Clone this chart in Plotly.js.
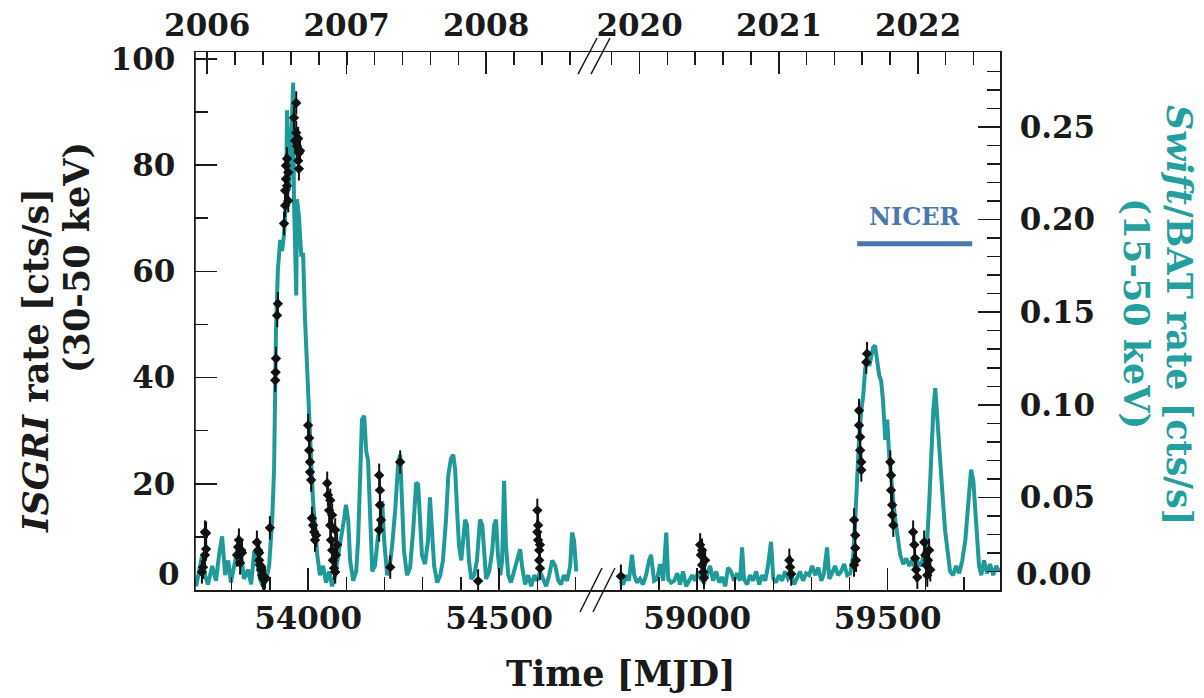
<!DOCTYPE html>
<html>
<head>
<meta charset="utf-8">
<script src="https://cdn.plot.ly/plotly-3.0.1.min.js"></script>
<style>html,body{margin:0;padding:0;background:#fff;}#chart{width:1204px;height:698px;}</style>
</head>
<body>
<div id="chart"></div>
<script>
// ---- Swift/BAT 15-50 keV light curve (cts/s), 2006-2008 segment ----
const batLeftMJD = [
53707,53715,53722,53730,53738,53749,53759,53767,53775,53783,
53791,53798,53809,53817,53825,53832,53843,53851,53859,53866,
53874,53882,53890,53898,53906,53911,53916,53921,53927,53932,
53937,53942,53945,53950,53955,53961,53963,53969,53971,53976,
53982,53987,53992,53997,54003,54008,54013,54018,54024,54031,
54039,54047,54055,54063,54071,54079,54086,54094,54099,54105,
54110,54118,54126,54131,54136,54141,54147,54152,54157,54162,
54168,54175,54183,54188,54194,54199,54207,54212,54220,54228,
54236,54241,54246,54251,54259,54267,54275,54283,54288,54293,
54298,54306,54314,54319,54325,54330,54338,54346,54353,54361,
54367,54374,54380,54385,54390,54395,54401,54406,54411,54416,
54421,54427,54435,54442,54450,54456,54461,54466,54474,54482,
54487,54492,54497,54503,54508,54513,54518,54524,54531,54539,
54547,54555,54560,54568,54576,54584,54592,54600,54607,54615,
54623,54631,54639,54647,54655,54662,54670,54678,54686,54691,
54696,54702];
const batLeftRate = [
0.002,0.010,0.018,0.008,0.003,0.013,0.005,0.019,0.029,0.008,
0.016,0.004,0.016,0.024,0.019,0.006,0.011,0.003,0.021,0.016,
0.006,0.002,0.005,0.013,0.038,0.065,0.140,0.173,0.189,0.183,
0.192,0.210,0.259,0.216,0.238,0.274,0.211,0.159,0.211,0.202,
0.181,0.181,0.146,0.119,0.092,0.070,0.048,0.032,0.019,0.008,
0.013,0.004,0.010,0.002,0.008,0.019,0.027,0.038,0.046,0.038,
0.016,0.005,0.010,0.027,0.059,0.092,0.094,0.075,0.070,0.038,
0.010,0.013,0.029,0.032,0.048,0.027,0.008,0.010,0.024,0.043,
0.069,0.073,0.048,0.021,0.008,0.012,0.032,0.058,0.057,0.038,
0.019,0.014,0.027,0.050,0.032,0.013,0.004,0.008,0.016,0.038,
0.062,0.071,0.073,0.065,0.043,0.024,0.016,0.027,0.038,0.035,
0.016,0.006,0.008,0.016,0.038,0.035,0.016,0.006,0.010,0.021,
0.035,0.038,0.019,0.008,0.016,0.059,0.024,0.008,0.004,0.010,
0.016,0.022,0.013,0.003,0.008,0.002,0.008,0.005,0.010,0.006,
0.002,0.008,0.016,0.013,0.005,0.003,0.008,0.005,0.013,0.031,
0.027,0.010];

// ---- Swift/BAT, 2020-2022 segment ----
const batRightMJD = [
58798,58806,58814,58821,58829,58835,58842,58850,58858,58866,
58874,58879,58887,58895,58903,58911,58919,58924,58932,58940,
58948,58955,58963,58971,58979,58987,58995,59003,59010,59018,
59026,59034,59042,59050,59058,59066,59074,59081,59089,59097,
59105,59113,59118,59123,59131,59139,59147,59155,59163,59171,
59179,59186,59194,59200,59207,59215,59223,59231,59239,59247,
59255,59263,59270,59278,59286,59294,59302,59310,59318,59326,
59333,59341,59347,59354,59362,59370,59378,59386,59394,59402,
59410,59415,59420,59425,59431,59436,59441,59446,59452,59457,
59462,59467,59473,59478,59483,59488,59494,59499,59504,59509,
59515,59520,59525,59533,59541,59549,59557,59564,59572,59580,
59588,59596,59604,59609,59614,59620,59625,59630,59635,59640,
59646,59651,59656,59664,59672,59680,59688,59696,59704,59709,
59714,59719,59725,59730,59735,59740,59746,59753,59761,59769,
59777,59785,59793];
const batRightRate = [
0.005,0.003,0.008,0.005,0.019,0.008,0.004,0.006,0.003,0.008,
0.016,0.019,0.005,0.006,0.014,0.005,0.031,0.006,0.004,0.005,
0.009,0.003,0.010,0.002,0.005,0.008,0.005,0.010,0.006,0.004,
0.008,0.013,0.005,0.010,0.004,0.007,0.002,0.012,0.010,0.005,
0.009,0.005,0.023,0.006,0.003,0.008,0.005,0.010,0.003,0.008,
0.005,0.013,0.026,0.006,0.004,0.008,0.005,0.010,0.006,0.008,
0.003,0.007,0.010,0.005,0.009,0.008,0.013,0.008,0.012,0.005,
0.009,0.023,0.006,0.009,0.013,0.008,0.010,0.014,0.008,0.009,
0.019,0.038,0.065,0.081,0.097,0.105,0.119,0.126,0.121,0.127,
0.131,0.132,0.121,0.116,0.113,0.102,0.081,0.092,0.073,0.059,
0.048,0.038,0.029,0.019,0.014,0.017,0.013,0.016,0.012,0.015,
0.013,0.019,0.027,0.046,0.070,0.097,0.109,0.092,0.078,0.065,
0.046,0.032,0.024,0.010,0.008,0.013,0.009,0.016,0.027,0.040,
0.054,0.065,0.059,0.043,0.024,0.013,0.008,0.016,0.009,0.014,
0.008,0.013,0.010];

// ---- INTEGRAL/ISGRI 30-50 keV rates (cts/s) ----
const isgriLeftMJD = [
53722,53725,53730,53733,53733,53730,
53814,53817,53819,53822,53825,53827,
53866,53869,53872,53874,53877,53880,53882,53885,53887,53872,
53900,
53914,53915,53916,53919,53921,
53937,53940,53940,53942,53942,53945,53945,53948,53948,
53963,53969,53966,53969,53971,53974,53974,53976,53976,53979,
54000,54003,54003,54005,54005,54008,
54010,54013,54016,54018,54021,
54050,54052,54055,54058,54060,54063,54065,54068,54071,54073,54076,54058,54063,54071,
54186,54188,54188,54191,54186,
54215,
54241,
54445,
54600,54602,54602,54605,54605,54607,54607,54600];
const isgriLeftRate = [
3.4,4.3,6.6,7.7,10.7,10.9,
6.6,8.1,9.4,5.1,7.5,7.0,
9.0,7.5,5.6,4.7,3.8,2.8,2.3,1.9,2.4,7.0,
11.7,
39.5,41.0,43.6,51.7,53.9,
69.0,72.4,75.2,77.4,79.9,81.2,76.1,78.6,73.3,
88.9,91.7,84.6,86.1,83.6,85.0,80.8,82.3,79.3,82.7,
31.0,28.6,26.3,24.1,22.2,20.7,
13.5,12.2,10.9,9.4,10.3,
20.1,17.9,15.0,12.2,9.4,7.5,5.6,4.1,3.4,6.6,8.5,16.9,14.1,11.3,
21.6,18.8,16.0,13.2,11.3,
4.3,
24.1,
1.7,
15.0,12.2,9.4,7.5,5.6,4.1,8.5,10.9];

const isgriRightMJD = [
58800,
59008,59010,59013,59016,59018,59013,59021,
59242,59244,59247,
59412,59415,59415,59417,59412,
59425,59425,59428,59428,59431,59431,
59446,59444,
59507,59509,59509,59512,59512,59515,
59567,59570,59572,59575,59578,
59596,59599,59601,59604,59606,59609,59612];
const isgriRightRate = [
2.6,
8.5,6.6,4.7,3.4,2.3,7.5,5.6,
5.6,4.3,3.0,
13.2,10.3,7.9,5.6,4.7,
33.8,31.0,28.8,26.3,24.1,22.6,
44.5,42.9,
24.1,21.6,18.8,16.0,14.1,12.2,
10.9,8.5,6.0,3.8,2.4,
9.0,6.6,4.7,2.8,5.6,7.5,3.8];

// ---- NICER coverage ----
const nicerMJD = [59420, 59722];
const nicerRate = [0.187, 0.187];
const nicerLabel = 'NICER';

// ---- axes ticks / labels ----
const yearTicksLeft = [53736, 54101, 54466];
const yearLabelsLeft = ['2006', '2007', '2008'];
const yearTicksRight = [58849, 59215, 59580];
const yearLabelsRight = ['2020', '2021', '2022'];
const isgriTicks = [0, 20, 40, 60, 80, 100];
const isgriTickText = ['', '20', '40', '60', '80', '100'];
const batTicks = [0, 0.05, 0.10, 0.15, 0.20, 0.25];
const batTickText = ['', '0.05', '0.10', '0.15', '0.20', '0.25'];
const isgriZeroLabel = '0';
const batZeroLabel = '0.00';
const xTitle = 'Time [MJD]';
const isgriTitle1 = '<i>ISGRI</i> rate [cts/s]';
const isgriTitle2 = '(30-50 keV)';
const batTitle1 = '<i>Swift</i>/BAT rate [cts/s]';
const batTitle2 = '(15-50 keV)';

// ---- style ----
const TEAL = '#1f9a98';
const TEAL_TXT = '#23a09e';
const INK = '#1a1a1a';
const NICER_C = '#4a77ab';
const FAM = 'DejaVu Serif, Liberation Serif, serif';
const tickFont = {family: FAM, size: 31, color: INK, weight: 'bold'};
const titleFont = {family: FAM, size: 35, color: INK, weight: 'bold'};

const splitX = 0.4969;

const batLine = {color: TEAL, width: 4};
const isgriMarker = {color: '#111', size: 8, symbol: 'diamond'};
const errY = {type: 'constant', value: 2.2, thickness: 2, width: 0, color: '#111'};
const errX = {type: 'constant', value: 5, thickness: 2, width: 0, color: '#111'};

const traces = [
  {x: batLeftMJD, y: batLeftRate, xaxis: 'x', yaxis: 'y', type: 'scatter', mode: 'lines', line: batLine, hoverinfo: 'skip'},
  {x: batRightMJD, y: batRightRate, xaxis: 'x2', yaxis: 'y', type: 'scatter', mode: 'lines', line: batLine, hoverinfo: 'skip'},
  // invisible copies so the calendar-year axes on top are drawn
  {x: batLeftMJD, y: batLeftRate, xaxis: 'x3', yaxis: 'y', type: 'scatter', mode: 'lines', line: {width: 0}, opacity: 0, hoverinfo: 'skip'},
  {x: batRightMJD, y: batRightRate, xaxis: 'x4', yaxis: 'y', type: 'scatter', mode: 'lines', line: {width: 0}, opacity: 0, hoverinfo: 'skip'},
  {x: nicerMJD, y: nicerRate, xaxis: 'x2', yaxis: 'y', type: 'scatter', mode: 'lines', line: {color: NICER_C, width: 5}, hoverinfo: 'skip'},
  {x: isgriLeftMJD, y: isgriLeftRate, xaxis: 'x', yaxis: 'y2', type: 'scatter', mode: 'markers', marker: isgriMarker, error_y: errY, error_x: errX, hoverinfo: 'skip'},
  {x: isgriRightMJD, y: isgriRightRate, xaxis: 'x2', yaxis: 'y2', type: 'scatter', mode: 'markers', marker: isgriMarker, error_y: errY, error_x: errX, hoverinfo: 'skip'}
];

const axBase = {
  showline: true, linecolor: INK, linewidth: 1.5, mirror: false,
  showgrid: false, zeroline: false,
  ticks: 'inside', tickcolor: INK, tickwidth: 1.5, ticklen: 22,
  tickfont: tickFont, fixedrange: true
};

const layout = {
  width: 1204, height: 698,
  margin: {l: 195, r: 204, t: 52, b: 108},
  paper_bgcolor: '#fff', plot_bgcolor: 'rgba(0,0,0,0)',
  showlegend: false,
  xaxis: Object.assign({}, axBase, {
    domain: [0, splitX], range: [53704, 54751], anchor: 'y',
    tickmode: 'linear', tick0: 54000, dtick: 500, tickformat: 'd', ticklabelstandoff: 0,
    minor: {tickmode: 'linear', tick0: 54000, dtick: 100, ticks: 'inside', ticklen: 13, tickwidth: 1.5, tickcolor: INK}
  }),
  xaxis2: Object.assign({}, axBase, {
    domain: [splitX, 1], range: [58732, 59795], anchor: 'y',
    tickmode: 'linear', tick0: 59000, dtick: 500, tickformat: 'd', ticklabelstandoff: 0,
    minor: {tickmode: 'linear', tick0: 59000, dtick: 100, ticks: 'inside', ticklen: 13, tickwidth: 1.5, tickcolor: INK}
  }),
  xaxis3: Object.assign({}, axBase, {
    overlaying: 'x', side: 'top', anchor: 'y', range: [53704, 54751],
    tickmode: 'array', tickvals: yearTicksLeft, ticktext: yearLabelsLeft, ticklabelstandoff: 2,
    minor: {tickmode: 'linear', tick0: yearTicksLeft[0], dtick: 73.05, ticks: 'inside', ticklen: 13, tickwidth: 1.5, tickcolor: INK}
  }),
  xaxis4: Object.assign({}, axBase, {
    overlaying: 'x2', side: 'top', anchor: 'y', range: [58732, 59795],
    tickmode: 'array', tickvals: yearTicksRight, ticktext: yearLabelsRight, ticklabelstandoff: 2,
    minor: {tickmode: 'linear', tick0: yearTicksRight[0], dtick: 73.05, ticks: 'inside', ticklen: 13, tickwidth: 1.5, tickcolor: INK}
  }),
  yaxis: Object.assign({}, axBase, {
    anchor: 'x2', side: 'right', range: [0, 0.2905],
    tickmode: 'array', tickvals: batTicks, ticktext: batTickText, ticklabelstandoff: 12,
    minor: {tickmode: 'linear', tick0: 0, dtick: 0.01, ticks: 'inside', ticklen: 13, tickwidth: 1.5, tickcolor: INK}
  }),
  yaxis2: Object.assign({}, axBase, {
    overlaying: 'y', anchor: 'x', side: 'left', range: [0, 101.3],
    tickmode: 'array', tickvals: isgriTicks, ticktext: isgriTickText, ticklabelstandoff: 12,
    minor: {tickmode: 'linear', tick0: 0, dtick: 10, ticks: 'inside', ticklen: 13, tickwidth: 1.5, tickcolor: INK}
  }),
  shapes: [
    {type: 'line', xref: 'paper', yref: 'paper', x0: 0, y0: 0, x1: 0, y1: 1, line: {color: INK, width: 1.5}},
    {type: 'line', xref: 'paper', yref: 'paper', x0: 0.4758, y0: 0.959, x1: 0.4994, y1: 1.026, line: {color: INK, width: 1.5}},
    {type: 'line', xref: 'paper', yref: 'paper', x0: 0.4919, y0: 0.959, x1: 0.5155, y1: 1.026, line: {color: INK, width: 1.5}},
    {type: 'line', xref: 'paper', yref: 'paper', x0: 0.4783, y0: -0.0409, x1: 0.5056, y1: 0.0409, line: {color: INK, width: 1.5}},
    {type: 'line', xref: 'paper', yref: 'paper', x0: 0.4944, y0: -0.0409, x1: 0.5217, y1: 0.0409, line: {color: INK, width: 1.5}}
  ],
  annotations: [
    {text: isgriZeroLabel, xref: 'paper', yref: 'paper', x: 0, y: 0.0297, xanchor: 'right', yanchor: 'middle', xshift: -13, showarrow: false, font: tickFont},
    {text: batZeroLabel, xref: 'paper', yref: 'paper', x: 1, y: 0.0297, xanchor: 'left', yanchor: 'middle', xshift: 14, showarrow: false, font: tickFont},
    {text: xTitle, xref: 'paper', yref: 'paper', x: 0.529, y: -0.156, xanchor: 'center', yanchor: 'middle', showarrow: false, font: titleFont},
    {text: isgriTitle1, xref: 'paper', yref: 'paper', x: -0.1988, y: 0.4275, xanchor: 'center', yanchor: 'middle', textangle: -90, showarrow: false, font: titleFont},
    {text: isgriTitle2, xref: 'paper', yref: 'paper', x: -0.1466, y: 0.619, xanchor: 'center', yanchor: 'middle', textangle: -90, showarrow: false, font: titleFont},
    {text: batTitle1, xref: 'paper', yref: 'paper', x: 1.2236, y: 0.511, xanchor: 'center', yanchor: 'middle', textangle: 90, showarrow: false, font: Object.assign({}, titleFont, {color: TEAL_TXT})},
    {text: batTitle2, xref: 'paper', yref: 'paper', x: 1.170, y: 0.513, xanchor: 'center', yanchor: 'middle', textangle: 90, showarrow: false, font: Object.assign({}, titleFont, {color: TEAL_TXT})},
    {text: nicerLabel, xref: 'x2', yref: 'y', x: (nicerMJD[0] + nicerMJD[1]) / 2, y: nicerRate[0], yshift: 27, xanchor: 'center', yanchor: 'middle', showarrow: false, font: {family: FAM, size: 24, color: NICER_C, weight: 'bold'}}
  ]
};

Plotly.newPlot('chart', traces, layout, {displayModeBar: false, staticPlot: true});
</script>
</body>
</html>
